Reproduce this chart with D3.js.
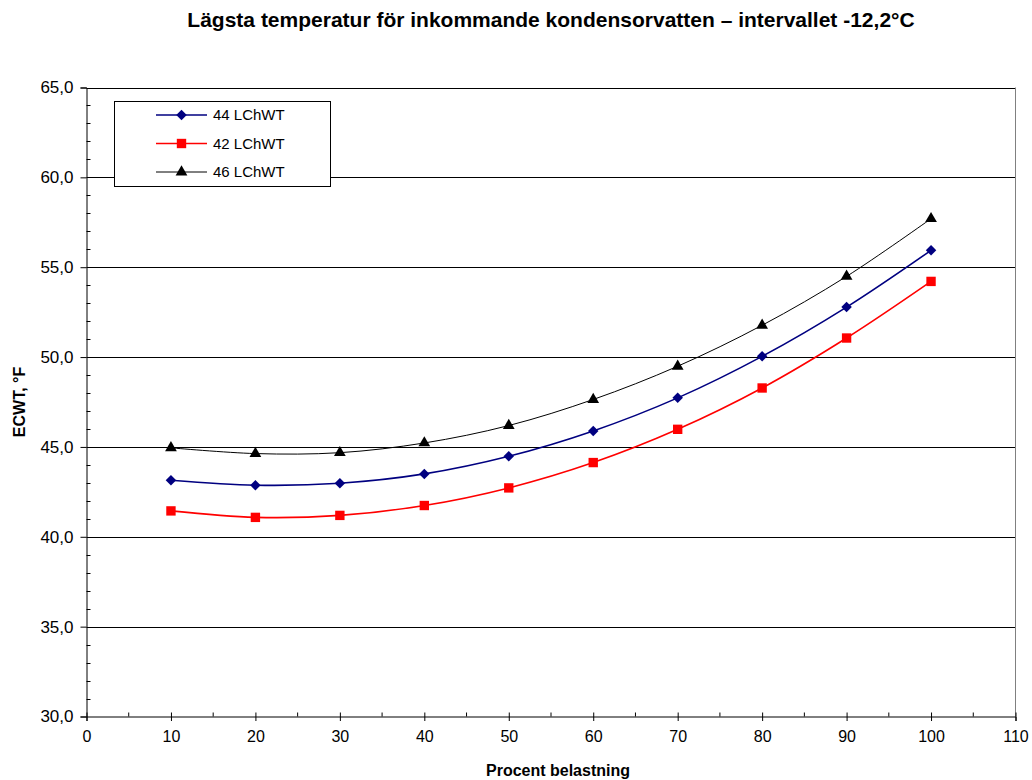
<!DOCTYPE html>
<html><head><meta charset="utf-8">
<script src="https://cdn.jsdelivr.net/npm/d3@7"></script>
<style>body{margin:0;background:#fff;} svg{display:block;font-family:"Liberation Sans",Arial,sans-serif;}</style>
</head><body>
<svg id="c" width="1032" height="780"></svg>
<script>
const loads = [10,20,30,40,50,60,70,80,90,100];
const lchwt44 = [43.15,42.87,42.98,43.5,44.48,45.89,47.73,50.04,52.78,55.94];
const lchwt42 = [41.44,41.08,41.19,41.74,42.72,44.13,45.98,48.28,51.06,54.21];
const lchwt46 = [44.95,44.63,44.68,45.22,46.19,47.64,49.49,51.77,54.49,57.7];
const seriesNames = ["44 LChWT","42 LChWT","46 LChWT"];
const xTicks = [0,10,20,30,40,50,60,70,80,90,100,110];
const yTicks = [30,35,40,45,50,55,60,65];
const titleText = "Lägsta temperatur för inkommande kondensorvatten – intervallet -12,2°C";
const xTitle = "Procent belastning";
const yTitle = "ECWT, °F";

const series = [
  {name: seriesNames[0], values: lchwt44, color: "#000080", width: 1.6, marker: "diamond"},
  {name: seriesNames[1], values: lchwt42, color: "#FF0000", width: 1.6, marker: "square"},
  {name: seriesNames[2], values: lchwt46, color: "#000000", width: 1, marker: "triangle"}
];

const svg = d3.select("#c");
const L = 86.5, R = 1015.5, T = 87.5, B = 716.5;
const x = d3.scaleLinear().domain([0,110]).range([L,R]);
const y = d3.scaleLinear().domain([30,65]).range([B,T]);

// gridlines
svg.append("g").selectAll("line").data(yTicks.filter(d=>d>30)).join("line")
  .attr("x1",L).attr("x2",R).attr("y1",d=>Math.round(y(d))+0.5).attr("y2",d=>Math.round(y(d))+0.5)
  .attr("stroke","#000").attr("stroke-width",1);
// plot border right
svg.append("line").attr("x1",R).attr("x2",R).attr("y1",T).attr("y2",B).attr("stroke","#808080");

// y axis
const yAxis = svg.append("g").attr("transform",`translate(${L},0)`)
  .call(d3.axisLeft(y).tickValues(yTicks).tickSize(6).tickFormat(d=>d3.format(".1f")(d).replace(".",",")).tickPadding(7));
yAxis.select(".domain").attr("stroke","#000");
yAxis.selectAll(".tick line").attr("stroke","#000");
yAxis.selectAll("text").attr("font-size",17).attr("fill","#000").attr("font-family","Liberation Sans, Arial");
// y minor ticks inside
svg.append("g").selectAll("line").data(d3.range(31,65).filter(d=>d%5!==0)).join("line")
  .attr("x1",L).attr("x2",L+4).attr("y1",d=>Math.round(y(d))+0.5).attr("y2",d=>Math.round(y(d))+0.5).attr("stroke","#000");

// x axis
const xAxis = svg.append("g").attr("transform",`translate(0,${B})`)
  .call(d3.axisBottom(x).tickValues(xTicks).tickSize(4.5).tickPadding(10));
xAxis.select(".domain").attr("stroke","#000");
xAxis.selectAll(".tick line").attr("stroke","#000").attr("y1",-4);
xAxis.selectAll("text").attr("font-size",16).attr("fill","#000").attr("font-family","Liberation Sans, Arial");
svg.append("g").selectAll("line").data(d3.range(5,110,10)).join("line")
  .attr("x1",d=>x(d)).attr("x2",d=>x(d)).attr("y1",B).attr("y2",B-4).attr("stroke","#000");

// markers
const diamondSym = {draw(ctx, size){ const r = Math.sqrt(size/2); ctx.moveTo(0,-r); ctx.lineTo(r,0); ctx.lineTo(0,r); ctx.lineTo(-r,0); ctx.closePath(); }};
const sym = {diamond: diamondSym, square: d3.symbolSquare, triangle: d3.symbolTriangle};
const symSize = {diamond: 55, square: 88, triangle: 60};

const line = d3.line().x((d,i)=>x(loads[i])).y(d=>y(d)).curve(d3.curveCatmullRom.alpha(0.5));
series.forEach(s=>{
  svg.append("path").attr("d",line(s.values)).attr("fill","none").attr("stroke",s.color).attr("stroke-width",s.width);
  svg.append("g").selectAll("path").data(s.values).join("path")
    .attr("transform",(d,i)=>`translate(${x(loads[i])},${y(d)})`)
    .attr("d",d3.symbol().type(sym[s.marker]).size(symSize[s.marker])).attr("fill",s.color);
});

// legend
const lg = svg.append("g");
lg.append("rect").attr("x",114.5).attr("y",101.5).attr("width",216).attr("height",85).attr("fill","#fff").attr("stroke","#000");
series.forEach((s,i)=>{
  const cy = 115 + i*28.5;
  lg.append("line").attr("x1",156).attr("x2",207).attr("y1",cy).attr("y2",cy).attr("stroke",s.color).attr("stroke-width",s.width);
  lg.append("path").attr("transform",`translate(181.5,${cy})`).attr("d",d3.symbol().type(sym[s.marker]).size(symSize[s.marker])).attr("fill",s.color);
  lg.append("text").attr("x",213).attr("y",cy+5).attr("font-size",15).text(s.name);
});

// titles
svg.append("text").attr("x",551).attr("y",27).attr("text-anchor","middle").attr("font-size",21).attr("font-weight","bold").text(titleText);
svg.append("text").attr("x",558).attr("y",776).attr("text-anchor","middle").attr("font-size",16).attr("font-weight","bold").text(xTitle);
svg.append("text").attr("transform","translate(25,402) rotate(-90)").attr("text-anchor","middle").attr("font-size",16).attr("font-weight","bold").text(yTitle);
</script>
</body></html>
